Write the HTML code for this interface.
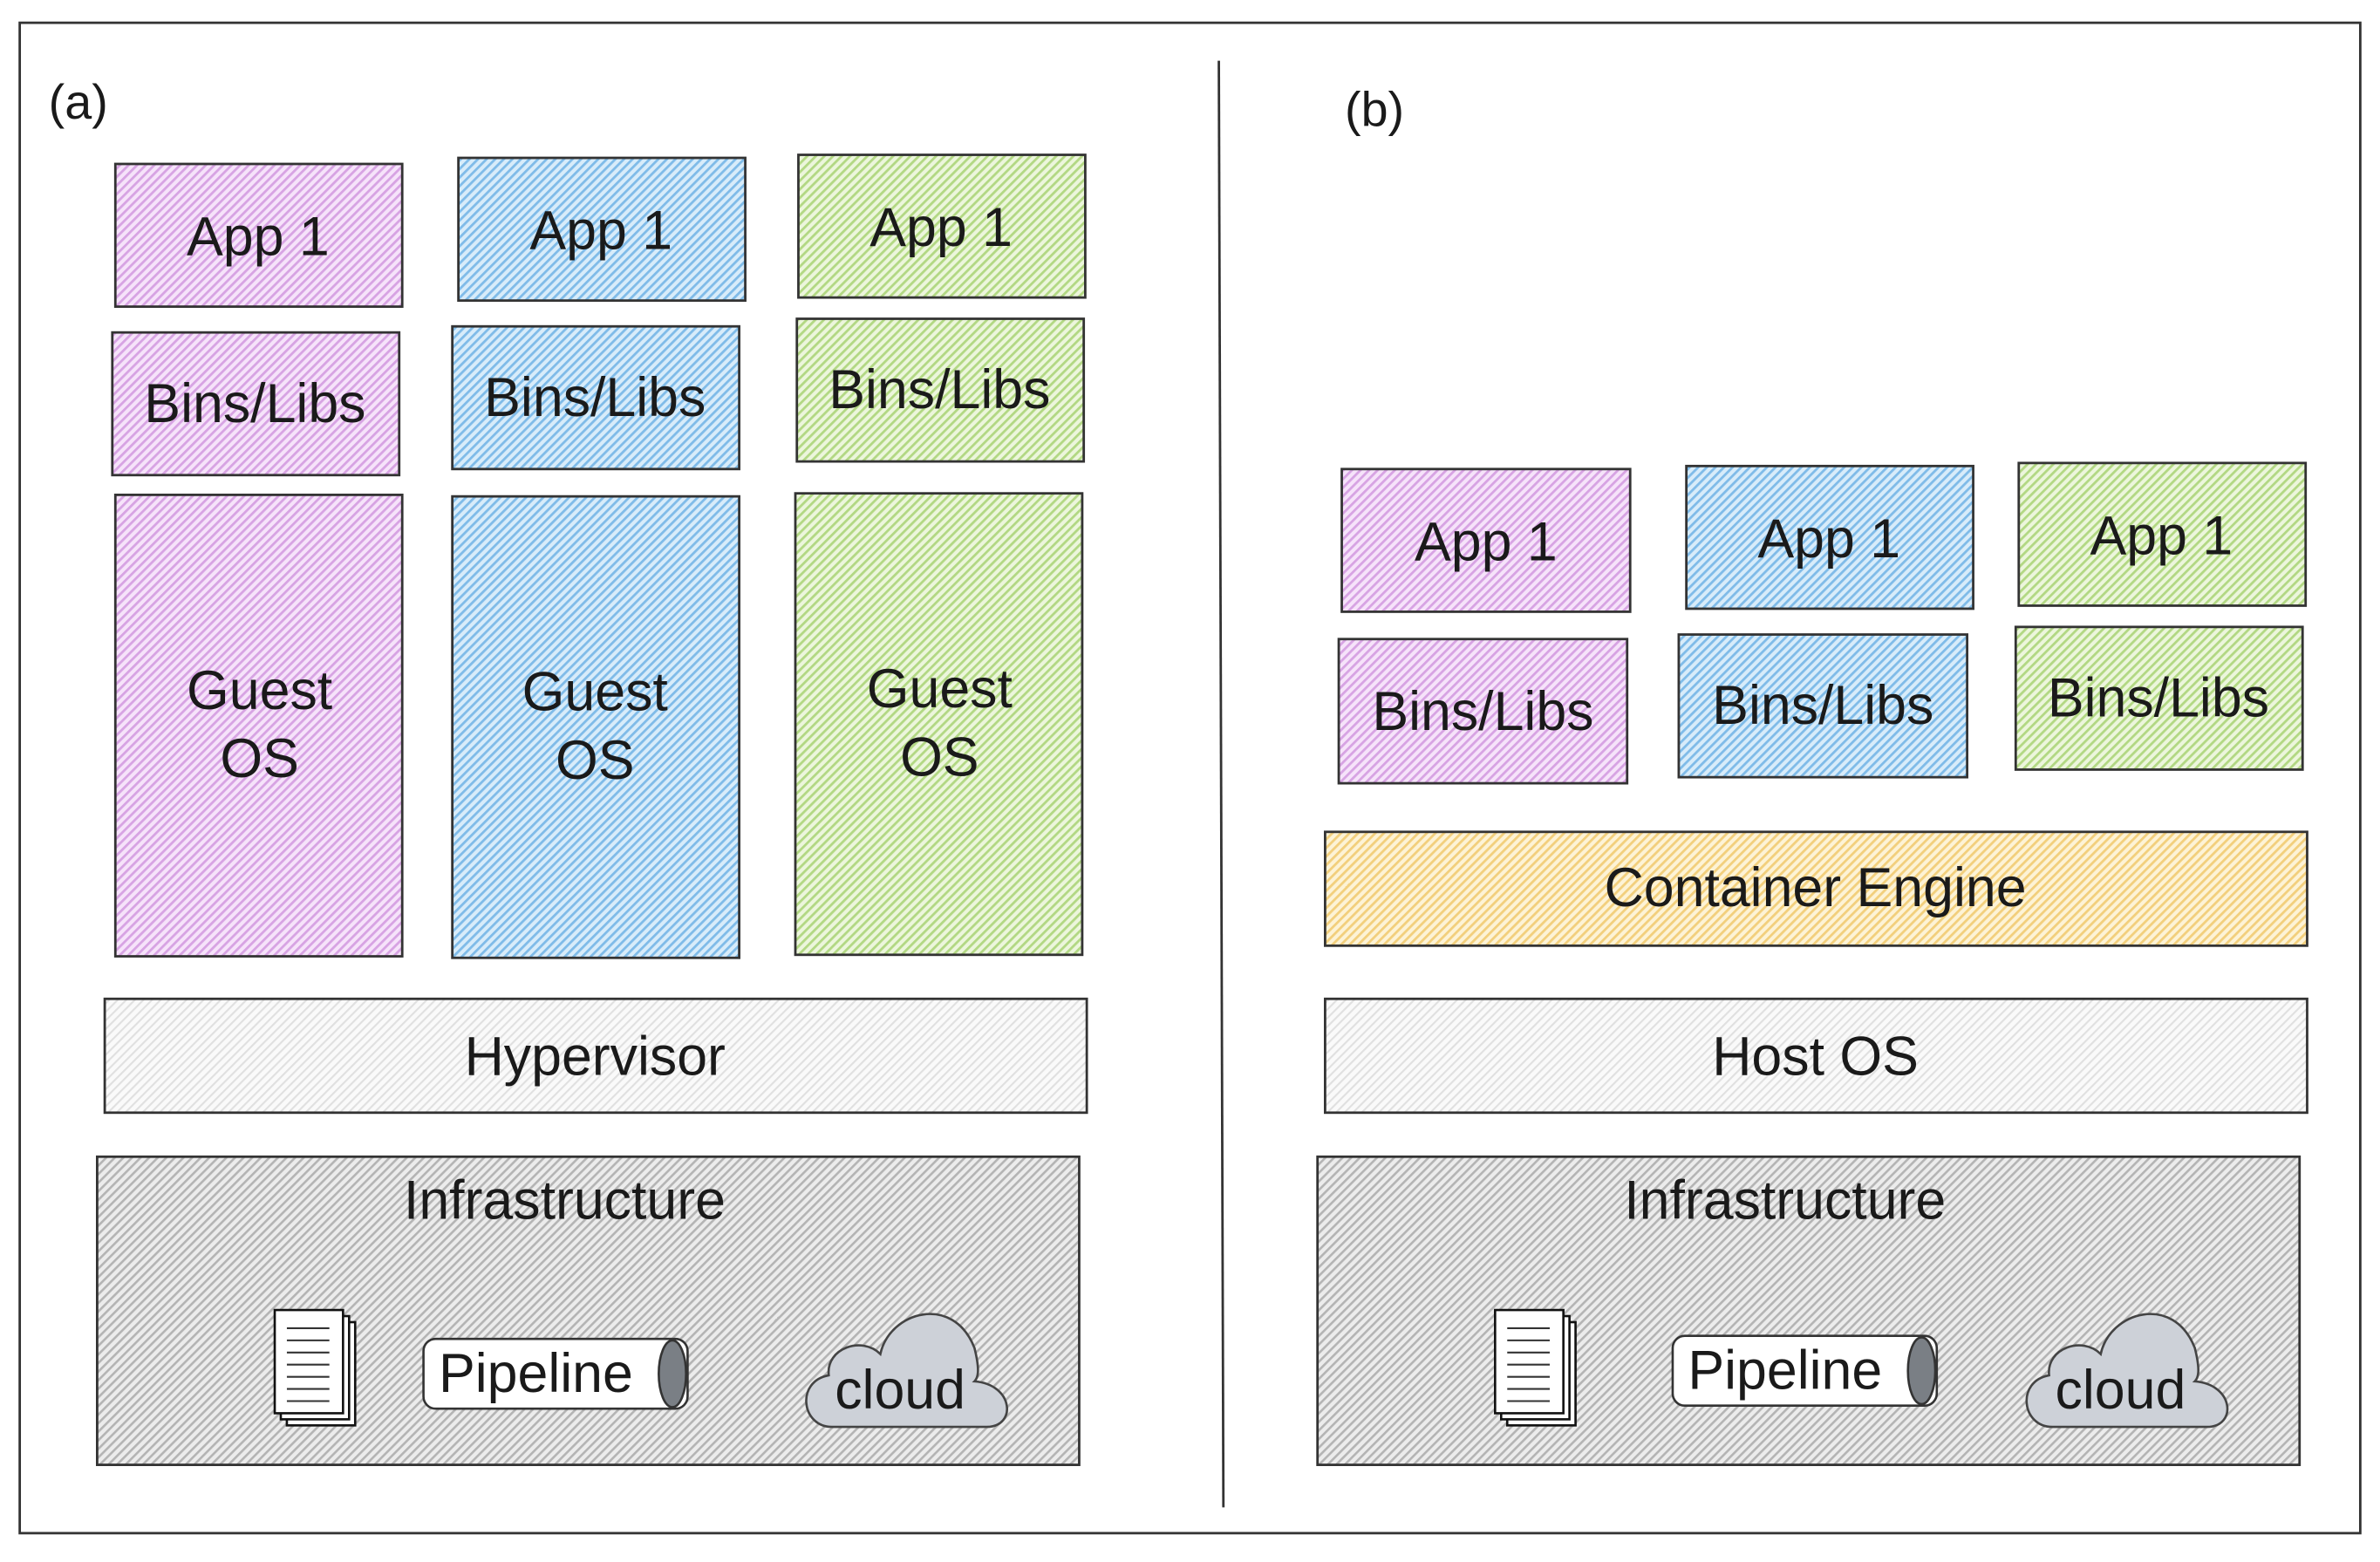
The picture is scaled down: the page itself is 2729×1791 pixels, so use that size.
<!DOCTYPE html>
<html><head><meta charset="utf-8"><style>
html,body{margin:0;padding:0;background:#fff;}
svg{display:block;}
text{font-family:"Liberation Sans",Arial,sans-serif;fill:#1a1a1a;}
</style></head><body>
<svg width="2729" height="1791" viewBox="0 0 1568 1029" preserveAspectRatio="none" xmlns="http://www.w3.org/2000/svg">
<defs>
<pattern id="pk" patternUnits="userSpaceOnUse" width="4" height="4" patternTransform="rotate(45)"><rect width="4" height="4" fill="#f6e3fa"/><rect width="1.6" height="4" fill="#d7a3e3"/></pattern>
<pattern id="bl" patternUnits="userSpaceOnUse" width="4" height="4" patternTransform="rotate(45)"><rect width="4" height="4" fill="#d8ecfa"/><rect width="1.6" height="4" fill="#7fbbe8"/></pattern>
<pattern id="gr" patternUnits="userSpaceOnUse" width="4" height="4" patternTransform="rotate(45)"><rect width="4" height="4" fill="#ecf6dc"/><rect width="1.6" height="4" fill="#b2d883"/></pattern>
<pattern id="ye" patternUnits="userSpaceOnUse" width="4" height="4" patternTransform="rotate(45)"><rect width="4" height="4" fill="#fdf3d6"/><rect width="1.6" height="4" fill="#f2cf7c"/></pattern>
<pattern id="wh" patternUnits="userSpaceOnUse" width="4" height="4" patternTransform="rotate(45)"><rect width="4" height="4" fill="#fafafa"/><rect width="1.2" height="4" fill="#e0e0e0"/></pattern>
<pattern id="gy" patternUnits="userSpaceOnUse" width="4" height="4" patternTransform="rotate(45)"><rect width="4" height="4" fill="#ececec"/><rect width="1.5" height="4" fill="#b4b4b4"/></pattern>
<g id="doc">
<rect x="8" y="8" width="45" height="68" fill="#fff" stroke="#111" stroke-width="1.5"/>
<rect x="4" y="4" width="45" height="68" fill="#fff" stroke="#111" stroke-width="1.5"/>
<rect x="0" y="0" width="45" height="68" fill="#fff" stroke="#111" stroke-width="1.5"/>
<path d="M8 12h28M8 20h28M8 28h28M8 36h28M8 44h28M8 52h28M8 60h28" stroke="#333" stroke-width="1.2"/>
</g>
<g id="pipe">
<rect x="0" y="0" width="174" height="46" rx="8" fill="#fff" stroke="#333" stroke-width="1.5"/>
<ellipse cx="164" cy="23" rx="9" ry="22" fill="#7a7f85" stroke="#333" stroke-width="1.5"/>
<text x="10" y="35" font-size="36">Pipeline</text>
</g>
<g id="cloud">
<path d="M20 82 C0 82 -4 52 18 48 C16 30 40 22 52 34 C58 6 100 -6 114 30 C118 46 116 50 114 52 C140 54 142 82 122 82 Z" fill="#cdd1d8" stroke="#444" stroke-width="1.5"/>
<text x="22" y="70" font-size="36">cloud</text>
</g>
</defs>
<rect x="13" y="15" width="1542" height="995" fill="#fff" stroke="#333" stroke-width="1.6"/>
<line x1="803" y1="40" x2="806" y2="993" stroke="#333" stroke-width="1.6"/>
<text x="32" y="78" font-size="32">(a)</text>
<text x="886" y="83" font-size="32">(b)</text>
<g stroke="#333" stroke-width="1.6" font-size="36">
<rect x="76" y="108" width="189" height="94" fill="url(#pk)"/>
<rect x="302" y="104" width="189" height="94" fill="url(#bl)"/>
<rect x="526" y="102" width="189" height="94" fill="url(#gr)"/>
<rect x="74" y="219" width="189" height="94" fill="url(#pk)"/>
<rect x="298" y="215" width="189" height="94" fill="url(#bl)"/>
<rect x="525" y="210" width="189" height="94" fill="url(#gr)"/>
<rect x="76" y="326" width="189" height="304" fill="url(#pk)"/>
<rect x="298" y="327" width="189" height="304" fill="url(#bl)"/>
<rect x="524" y="325" width="189" height="304" fill="url(#gr)"/>
<rect x="69" y="658" width="647" height="75" fill="url(#wh)"/>
<rect x="64" y="762" width="647" height="203" fill="url(#gy)"/>
<rect x="884" y="309" width="190" height="94" fill="url(#pk)"/>
<rect x="1111" y="307" width="189" height="94" fill="url(#bl)"/>
<rect x="1330" y="305" width="189" height="94" fill="url(#gr)"/>
<rect x="882" y="421" width="190" height="95" fill="url(#pk)"/>
<rect x="1106" y="418" width="190" height="94" fill="url(#bl)"/>
<rect x="1328" y="413" width="189" height="94" fill="url(#gr)"/>
<rect x="873" y="548" width="647" height="75" fill="url(#ye)"/>
<rect x="873" y="658" width="647" height="75" fill="url(#wh)"/>
<rect x="868" y="762" width="647" height="203" fill="url(#gy)"/>
</g>
<g font-size="36" text-anchor="middle">
<text x="170" y="168">App 1</text>
<text x="396" y="164">App 1</text>
<text x="620" y="162">App 1</text>
<text x="168" y="278">Bins/Libs</text>
<text x="392" y="274">Bins/Libs</text>
<text x="619" y="269">Bins/Libs</text>
<text x="171" y="467">Guest</text><text x="171" y="512">OS</text>
<text x="392" y="468">Guest</text><text x="392" y="513">OS</text>
<text x="619" y="466">Guest</text><text x="619" y="511">OS</text>
<text x="392" y="708">Hypervisor</text>
<text x="372" y="803">Infrastructure</text>
<text x="979" y="369">App 1</text>
<text x="1205" y="367">App 1</text>
<text x="1424" y="365">App 1</text>
<text x="977" y="481">Bins/Libs</text>
<text x="1201" y="477">Bins/Libs</text>
<text x="1422" y="472">Bins/Libs</text>
<text x="1196" y="597">Container Engine</text>
<text x="1196" y="708">Host OS</text>
<text x="1176" y="803">Infrastructure</text>
</g>
<use href="#doc" x="181" y="863"/>
<use href="#pipe" x="279" y="882"/>
<use href="#cloud" x="528" y="858"/>
<use href="#doc" x="985" y="863"/>
<use href="#pipe" x="1102" y="880"/>
<use href="#cloud" x="1332" y="858"/>
</svg>
</body></html>
